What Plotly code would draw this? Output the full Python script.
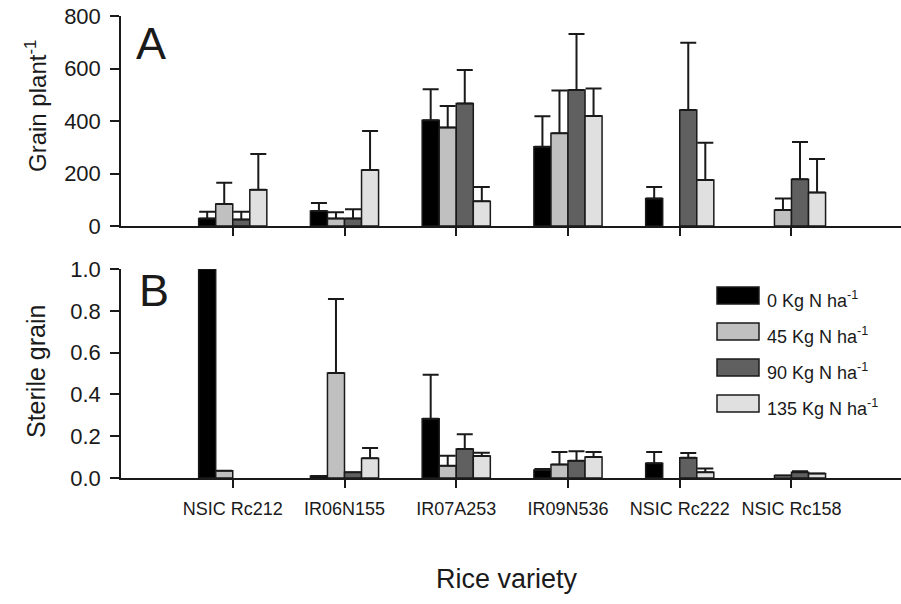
import plotly.graph_objects as go
from plotly.subplots import make_subplots

varieties = ["NSIC Rc212", "IR06N155", "IR07A253", "IR09N536", "NSIC Rc222", "NSIC Rc158"]
series_names = ["0 Kg N ha<sup>-1</sup>", "45 Kg N ha<sup>-1</sup>",
                "90 Kg N ha<sup>-1</sup>", "135 Kg N ha<sup>-1</sup>"]
series_colors = ["#000000", "#c0c0c0", "#606060", "#e0e0e0"]

# Panel A: grain per plant (mean, upper error)
grain_0 = [29, 57, 403, 302, 105, None]
grain_0_err = [25, 31, 118, 116, 44, None]
grain_45 = [84, 29, 375, 353, None, 61]
grain_45_err = [81, 23, 82, 163, None, 44]
grain_90 = [25, 29, 467, 518, 442, 178]
grain_90_err = [29, 35, 127, 213, 256, 142]
grain_135 = [138, 213, 94, 419, 175, 128]
grain_135_err = [136, 149, 55, 105, 142, 127]

# Panel B: sterile grain fraction (mean, upper error)
sterile_0 = [1.0, 0.01, 0.284, 0.038, 0.07, None]
sterile_0_err = [0, 0, 0.21, 0.005, 0.054, None]
sterile_45 = [0.035, 0.502, 0.059, 0.065, None, 0.012]
sterile_45_err = [0, 0.354, 0.048, 0.059, None, 0]
sterile_90 = [None, 0.027, 0.139, 0.083, 0.097, 0.028]
sterile_90_err = [None, 0, 0.07, 0.045, 0.023, 0.004]
sterile_135 = [None, 0.094, 0.105, 0.10, 0.027, 0.022]
sterile_135_err = [None, 0.05, 0.016, 0.024, 0.018, 0]

grain = [(grain_0, grain_0_err), (grain_45, grain_45_err),
         (grain_90, grain_90_err), (grain_135, grain_135_err)]
sterile = [(sterile_0, sterile_0_err), (sterile_45, sterile_45_err),
           (sterile_90, sterile_90_err), (sterile_135, sterile_135_err)]

FONT = "Arial, Liberation Sans, sans-serif"
INK = "#1a1a1a"

fig = make_subplots(rows=2, cols=1, shared_xaxes=False, vertical_spacing=0.0)

for row, data in ((1, grain), (2, sterile)):
    for i, (vals, errs) in enumerate(data):
        fig.add_trace(go.Bar(
            x=list(range(len(varieties))), y=vals, name=series_names[i],
            marker=dict(color=series_colors[i], line=dict(color=INK, width=1.5)),
            error_y=dict(type="data", symmetric=False, array=errs,
                         arrayminus=[0 if v is not None else None for v in vals],
                         color=INK, thickness=2, width=8),
            showlegend=False,
        ), row=row, col=1)

W, H = 901, 604
L, R = 121, 0
top_m, bot_m = 16, 126
ph = H - top_m - bot_m
pw = W - L - R


def fy(ypix):
    return (H - bot_m - ypix) / ph


def fx(xpix):
    return (xpix - L) / pw


common_x = dict(range=[-1, 5.98], tickmode="array", tickvals=list(range(len(varieties))),
                showline=True, linecolor=INK, linewidth=1.5, ticks="outside",
                ticklen=8, tickwidth=1.5, tickcolor=INK, showgrid=False, zeroline=False)
fig.update_xaxes(**common_x)
fig.update_xaxes(showticklabels=False, row=1, col=1)
fig.update_xaxes(ticktext=varieties, showticklabels=True,
                 tickfont=dict(family=FONT, size=18, color=INK),
                 ticklabelstandoff=6, row=2, col=1)

common_y = dict(showline=True, linecolor=INK, linewidth=1.5, ticks="outside",
                ticklen=9, tickwidth=1.5, tickcolor=INK, showgrid=False, zeroline=False,
                tickfont=dict(family=FONT, size=22, color=INK), ticklabelstandoff=5)
fig.update_yaxes(**common_y)
fig.update_yaxes(range=[0, 800], dtick=200, domain=[fy(226), fy(16)], row=1, col=1)
fig.update_yaxes(range=[0, 1.0], dtick=0.2, tickformat=".1f",
                 domain=[fy(478), fy(269)], row=2, col=1)

annotations = [
    dict(text="A", x=fx(134), y=fy(44), xref="paper", yref="paper",
         xanchor="left", yanchor="middle", showarrow=False,
         font=dict(family=FONT, size=45, color=INK)),
    dict(text="B", x=fx(137), y=fy(290), xref="paper", yref="paper",
         xanchor="left", yanchor="middle", showarrow=False,
         font=dict(family=FONT, size=45, color=INK)),
    dict(text="Grain plant<sup>-1</sup>", x=fx(36), y=fy(106), xref="paper", yref="paper",
         xanchor="center", yanchor="middle", textangle=-90, showarrow=False,
         font=dict(family=FONT, size=24, color=INK)),
    dict(text="Sterile grain", x=fx(36), y=fy(372), xref="paper", yref="paper",
         xanchor="center", yanchor="middle", textangle=-90, showarrow=False,
         font=dict(family=FONT, size=25, color=INK)),
    dict(text="Rice variety", x=fx(507), y=fy(579), xref="paper", yref="paper",
         xanchor="center", yanchor="middle", showarrow=False,
         font=dict(family=FONT, size=27, color=INK)),
]

# legend drawn as swatches + labels
shapes = []
leg_x0, leg_x1 = 717, 759
leg_y0 = 287
for i, name in enumerate(series_names):
    yt = leg_y0 + 36 * i
    shapes.append(dict(type="rect", xref="paper", yref="paper",
                       x0=fx(leg_x0), x1=fx(leg_x1), y0=fy(yt + 17), y1=fy(yt),
                       fillcolor=series_colors[i], line=dict(color=INK, width=1.5)))
    annotations.append(dict(text=name, x=fx(765), y=fy(yt + 12),
                            xref="paper", yref="paper", xanchor="left", yanchor="middle",
                            showarrow=False, font=dict(family=FONT, size=18, color=INK)))

fig.update_layout(
    width=W, height=H,
    margin=dict(l=L, r=R, t=top_m, b=bot_m),
    barmode="group", bargap=0.39, bargroupgap=0,
    plot_bgcolor="white", paper_bgcolor="white",
    annotations=annotations, shapes=shapes, showlegend=False,
    font=dict(family=FONT, color=INK),
)

fig.write_html("out.html", config={"displayModeBar": False},
               post_script="document.body.style.margin='0';")
